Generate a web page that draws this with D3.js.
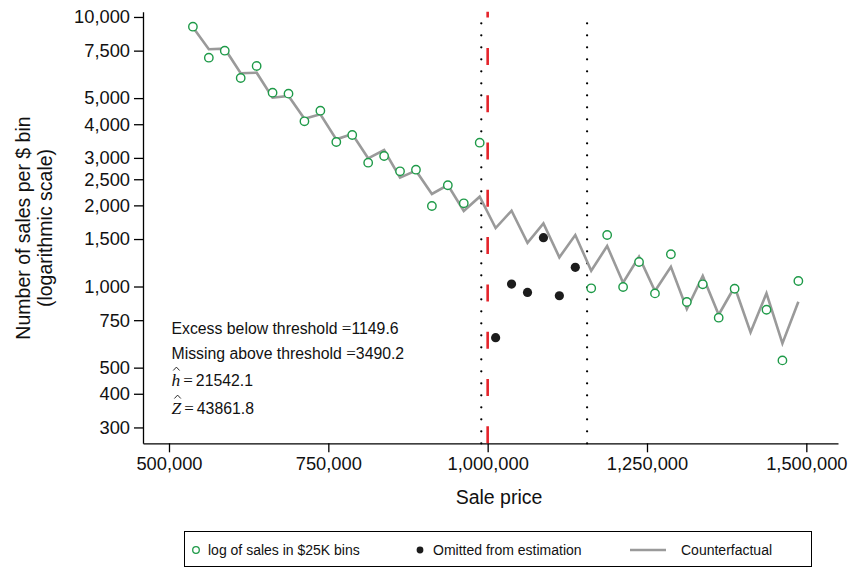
<!DOCTYPE html>
<html>
<head>
<meta charset="utf-8">
<script src="https://cdn.jsdelivr.net/npm/d3@7"></script>
<style>
  html, body { margin: 0; padding: 0; background: #fff; }
  svg { display: block; }
  text { font-family: "Liberation Sans", Arial, Helvetica, sans-serif; fill: #111; }
  .math { font-family: "Liberation Serif", "DejaVu Serif", "Times New Roman", serif; }
</style>
</head>
<body>
<svg id="chart" width="848" height="568"></svg>
<script>
// Sale-price bin midpoints ($25K bins)
const priceBins = [
  537500, 562500, 587500, 612500, 637500, 662500, 687500, 712500, 737500, 762500,
  787500, 812500, 837500, 862500, 887500, 912500, 937500, 962500, 987500,
  1012500, 1037500, 1062500, 1087500, 1112500, 1137500,
  1162500, 1187500, 1212500, 1237500, 1262500, 1287500, 1312500, 1337500, 1362500,
  1387500, 1412500, 1437500, 1462500, 1487500
];

// Observed sales per bin used in the estimation (null = not used / no observation)
const observedSales = [
  9205, 7062, 7497, 5938, 6579, 5238, 5194, 4102, 4490, 3437,
  3649, 2880, 3049, 2676, 2712, 1989, 2375, 2035, 3416,
  null, null, null, null, null, null,
  985, 1553, 996, 1233, 943, 1317, 876, 1019, 766,
  981, null, 820, 532, 1048
];

// Bins just above the threshold, omitted from estimation
const omittedSales = [
  null, null, null, null, null, null, null, null, null, null,
  null, null, null, null, null, null, null, null, null,
  646, 1021, 951, 1517, 924, 1178,
  null, null, null, null, null, null, null, null, null,
  null, null, null, null, null
];

// Fitted counterfactual distribution
const counterfactual = [
  9158, 7588, 7627, 6181, 6213, 5018, 5092, 4193, 4354, 3516,
  3679, 2990, 3210, 2533, 2690, 2204, 2380, 1906, 2154,
  1648, 1911, 1453, 1715, 1283, 1552,
  1144, 1413, 1033, 1290, 962, 1184, 825, 1094, 786,
  998, 676, 944, 615, 878
];

const xTicks = [500000, 750000, 1000000, 1250000, 1500000];
const yTicks = [300, 400, 500, 750, 1000, 1500, 2000, 2500, 3000, 4000, 5000, 7500, 10000];

const threshold = 1000000;
const windowBounds = [990000, 1156000];

const annotations = [
  { label: "Excess below threshold ", value: "1149.6" },
  { label: "Missing above threshold ", value: "3490.2" }
];
const estimates = [
  { symbol: "h", value: "21542.1" },
  { symbol: "Z", value: "43861.8" }
];

const legendItems = ["log of sales in $25K bins", "Omitted from estimation", "Counterfactual"];

// ---- layout ----
const svg = d3.select("#chart");
const plot = { left: 143, right: 838, top: 11.7, bottom: 443.3 };

const x = d3.scaleLinear().domain([459200, 1549700]).range([plot.left, plot.right]);
const y = d3.scaleLog().domain([262, 10460]).range([plot.bottom, plot.top]);

const green = "#1e9a48";
const grey = "#9a9a9a";
const red = "#e5242b";

// ---- axes ----
const fmt = d3.format(",");
const yAxis = d3.axisLeft(y).tickValues(yTicks).tickFormat(fmt).tickSize(9).tickPadding(4).tickSizeOuter(0);
const xAxis = d3.axisBottom(x).tickValues(xTicks).tickFormat(fmt).tickSize(9).tickPadding(5).tickSizeOuter(0);

const gy = svg.append("g").attr("transform", `translate(${plot.left},0)`).call(yAxis);
const gx = svg.append("g").attr("transform", `translate(0,${plot.bottom})`).call(xAxis);
[gx, gy].forEach(g => {
  g.select(".domain").attr("stroke", "#000").attr("stroke-width", 1.3);
  g.selectAll(".tick line").attr("stroke", "#000").attr("stroke-width", 1.3);
  g.selectAll(".tick text")
    .attr("fill", "#111")
    .style("font-family", '"Liberation Sans", Arial, Helvetica, sans-serif')
    .style("font-size", "18.3px");
});

// axis titles
svg.append("text")
  .attr("x", 499).attr("y", 504)
  .attr("text-anchor", "middle")
  .style("font-size", "19.5px")
  .text("Sale price");

const yTitle = svg.append("text")
  .attr("transform", "translate(30,228) rotate(-90)")
  .attr("text-anchor", "middle")
  .style("font-size", "19.5px");
yTitle.append("tspan").attr("x", 0).attr("dy", 0).text("Number of sales per $ bin");
yTitle.append("tspan").attr("x", 0).attr("dy", 22).text("(logarithmic scale)");

// ---- reference lines ----
windowBounds.forEach(v => {
  svg.append("line")
    .attr("x1", x(v)).attr("x2", x(v))
    .attr("y1", plot.bottom).attr("y2", plot.top)
    .attr("stroke", "#000").attr("stroke-width", 2.3)
    .attr("stroke-linecap", "round")
    .attr("stroke-dasharray", "0,12");
});

svg.append("line")
  .attr("x1", x(threshold)).attr("x2", x(threshold))
  .attr("y1", plot.bottom).attr("y2", plot.top)
  .attr("stroke", red).attr("stroke-width", 2.6)
  .attr("stroke-dasharray", "17,30.3");

// ---- counterfactual line ----
const line = d3.line()
  .x((d, i) => x(priceBins[i]))
  .y(d => y(d));
svg.append("path")
  .datum(counterfactual)
  .attr("fill", "none")
  .attr("stroke", grey)
  .attr("stroke-width", 2.6)
  .attr("stroke-linejoin", "miter")
  .attr("d", line);

// ---- observed points ----
const obs = priceBins.map((p, i) => ({ p, v: observedSales[i] })).filter(d => d.v != null);
svg.append("g").selectAll("circle").data(obs).join("circle")
  .attr("cx", d => x(d.p)).attr("cy", d => y(d.v))
  .attr("r", 4.2)
  .attr("fill", "#fff")
  .attr("stroke", green).attr("stroke-width", 1.4);

const om = priceBins.map((p, i) => ({ p, v: omittedSales[i] })).filter(d => d.v != null);
svg.append("g").selectAll("circle").data(om).join("circle")
  .attr("cx", d => x(d.p)).attr("cy", d => y(d.v))
  .attr("r", 4.6)
  .attr("fill", "#1c1c1c");

// ---- annotations ----
const ann = svg.append("g").style("font-size", "15.8px");
annotations.forEach((a, i) => {
  const t = ann.append("text").attr("x", 171.5).attr("y", 334 + i * 24.5);
  t.append("tspan").text(a.label);
  t.append("tspan").attr("class", "math").style("font-size", "17px").text("=");
  t.append("tspan").text(a.value);
});

estimates.forEach((e, i) => {
  const by = 385.5 + i * 28;
  const t = ann.append("text").attr("x", 171.5).attr("y", by);
  t.append("tspan").attr("class", "math").style("font-style", "italic").style("font-size", "17.5px").text(e.symbol);
  t.append("tspan").attr("class", "math").attr("dx", 3).style("font-size", "17px").text("=");
  t.append("tspan").attr("dx", 3).text(e.value);
  // hat accent over the estimator symbol
  const hx = e.symbol === "h" ? 176.4 : 177.6;
  const hy = by - 15;
  ann.append("path")
    .attr("d", `M${hx - 3.2},${hy} L${hx},${hy - 3.4} L${hx + 3.2},${hy}`)
    .attr("fill", "none").attr("stroke", "#111").attr("stroke-width", 0.9);
});

// ---- legend ----
const lg = svg.append("g");
lg.append("rect")
  .attr("x", 184.5).attr("y", 531.5).attr("width", 627).attr("height", 35)
  .attr("fill", "#fff").attr("stroke", "#000").attr("stroke-width", 1);

const ly = 550;
const lfs = "14px";
lg.append("circle").attr("cx", 196).attr("cy", ly).attr("r", 3.3)
  .attr("fill", "#fff").attr("stroke", green).attr("stroke-width", 1.3);
lg.append("text").attr("x", 208).attr("y", ly + 5).style("font-size", lfs).text(legendItems[0]);

lg.append("circle").attr("cx", 420).attr("cy", ly).attr("r", 3.4).attr("fill", "#1c1c1c");
lg.append("text").attr("x", 433).attr("y", ly + 5).style("font-size", lfs).text(legendItems[1]);

lg.append("line").attr("x1", 630).attr("x2", 666).attr("y1", ly).attr("y2", ly)
  .attr("stroke", grey).attr("stroke-width", 2.6);
lg.append("text").attr("x", 681).attr("y", ly + 5).style("font-size", lfs).text(legendItems[2]);
</script>
</body>
</html>
